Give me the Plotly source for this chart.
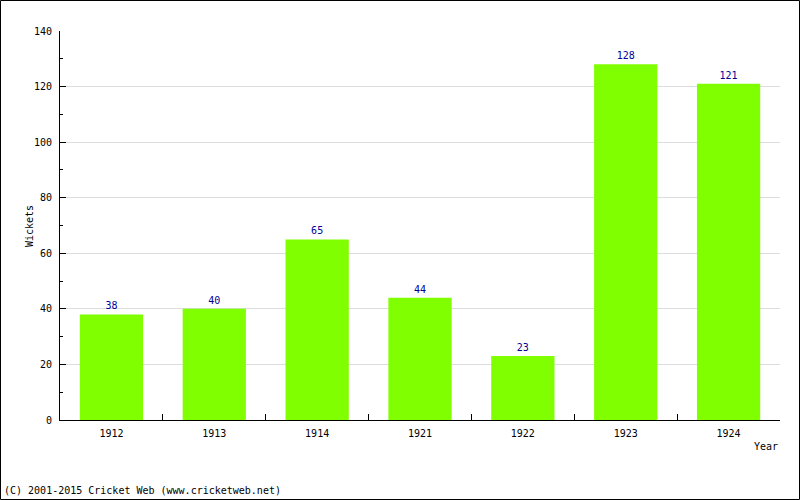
import plotly.graph_objects as go

years = ["1912", "1913", "1914", "1921", "1922", "1923", "1924"]
wickets = [38, 40, 65, 44, 23, 128, 121]

FONT = "DejaVu Sans Mono"
FS = 10
L, R, T, B = 60, 20, 31, 80
W, H = 800, 500
pw, ph = W - L - R, H - T - B

fig = go.Figure(go.Bar(
    x=years, y=wickets,
    marker=dict(color="#80FF00", line=dict(width=0)),
    text=[str(v) for v in wickets], textposition="outside",
    textfont=dict(family=FONT, size=FS, color="#000099"),
    cliponaxis=False, width=0.615,
))

def py(pix):
    return ((T + ph) - pix) / ph

def px(pix):
    return (pix - L) / pw

fig.update_layout(
    width=W, height=H,
    margin=dict(l=L, r=R, t=T, b=B, pad=0),
    paper_bgcolor="white", plot_bgcolor="white",
    showlegend=False,
    font=dict(family=FONT, size=FS, color="black"),
    xaxis=dict(
        type="category", tickson="boundaries", ticks="inside", ticklen=6,
        tickcolor="black", showline=True, linecolor="black", linewidth=1,
        showgrid=False, tickfont=dict(family=FONT, size=FS), ticklabelstandoff=4,
    ),
    yaxis=dict(
        range=[0, 140], dtick=20, ticks="inside", ticklen=6, tickcolor="black",
        showline=True, linecolor="black", linewidth=1,
        showgrid=True, gridcolor="#DDDDDD", gridwidth=1, zeroline=False,
        minor=dict(dtick=10, ticks="inside", ticklen=3, tickcolor="black", showgrid=False),
        tickfont=dict(family=FONT, size=FS), ticklabelstandoff=5,
    ),
    annotations=[
        dict(text="Wickets", xref="paper", yref="paper", x=px(30), y=py(226), textangle=-90,
             xanchor="center", yanchor="middle", showarrow=False, font=dict(family=FONT, size=FS)),
        dict(text="Year", xref="paper", yref="paper", x=px(780), y=py(446),
             xanchor="right", yanchor="middle", showarrow=False, font=dict(family=FONT, size=FS)),
        dict(text="(C) 2001-2015 Cricket Web (www.cricketweb.net)", xref="paper", yref="paper",
             x=px(2), y=py(491), xanchor="left", yanchor="middle",
             showarrow=False, font=dict(family=FONT, size=FS)),
    ],
    shapes=[
        dict(type="rect", xref="paper", yref="paper",
             x0=px(0.5), x1=px(W - 0.5), y0=py(H - 0.5), y1=py(0.5),
             line=dict(color="black", width=1), fillcolor="rgba(0,0,0,0)", layer="above"),
    ],
)

fig.write_html("out.html")
